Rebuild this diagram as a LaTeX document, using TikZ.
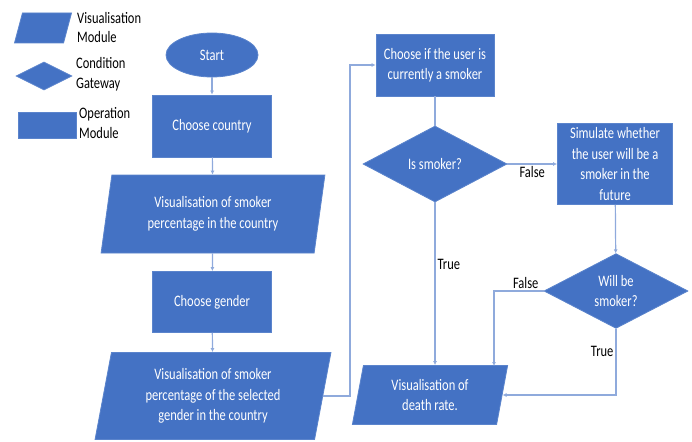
\documentclass[tikz,border=0pt]{standalone}
\usepackage{fontspec}
\setmainfont{Carlito}[FakeStretch=0.78]
\usetikzlibrary{arrows.meta,calc,positioning,shapes.geometric}
\definecolor{fcBlue}{HTML}{4472C4}
\definecolor{fcEdge}{HTML}{5B84CC}
\definecolor{fcLine}{HTML}{8FAADC}

\begin{document}
\begin{tikzpicture}[x=1pt,y=-1pt,>={Latex[length=4pt,width=4pt]},
  every node/.style={font=\fontsize{16}{20.5}\selectfont},
  opbox/.style={rectangle,fill=fcBlue,draw=fcEdge,line width=.8pt,text=white,align=center,inner sep=1pt},
  visbox/.style={trapezium,trapezium left angle=79,trapezium right angle=101,trapezium stretches=true,fill=fcBlue,draw=fcEdge,line width=.8pt,text=white,align=center,inner sep=1pt},
  gate/.style={diamond,fill=fcBlue,draw=fcEdge,line width=.8pt,text=white,align=center,inner sep=0pt},
  flow/.style={fcLine,line width=1.2pt},
  lbl/.style={text=black,inner sep=2pt}]
\useasboundingbox (0,0) rectangle (692,441);
% legend
\node[visbox,minimum width=57pt,minimum height=30pt] (legvis) at (43,28) {};
\node[anchor=west,align=left,inner sep=0pt,font=\fontsize{16}{19}\selectfont] (legvistxt) at (77,28) {Visualisation\\Module};
\node[gate,minimum width=56pt,minimum height=28pt] (leggate) at (44,76) {};
\node[anchor=west,align=left,inner sep=0pt,font=\fontsize{16}{20}\selectfont] (leggatetxt) at (76,74) {Condition\\Gateway};
\node[opbox,minimum width=58pt,minimum height=26pt] (legop) at (47,125) {};
\node[anchor=west,align=left,inner sep=0pt,font=\fontsize{16}{20}\selectfont] (legoptxt) at (79,123) {Operation\\Module};
% left column
\node[ellipse,fill=fcBlue,draw=fcEdge,line width=.8pt,text=white,minimum width=92pt,minimum height=44pt] (start) at (212,55) {Start};
\node[opbox,minimum width=119pt,minimum height=62pt] (country) at (212,126) {Choose country};
\node[visbox,minimum width=224pt,minimum height=78pt] (vissmoker) at (213,214) {Visualisation of smoker\\percentage in the country};
\node[opbox,minimum width=119pt,minimum height=61pt] (gender) at (212,302) {Choose gender};
\node[visbox,minimum width=236pt,minimum height=87pt] (visgender) at (213,396) {Visualisation of smoker\\percentage of the selected\\gender in the country};
% right part
\node[opbox,minimum width=118pt,minimum height=62pt] (current) at (435,65) {Choose if the user is\\currently a smoker};
\node[gate,minimum width=144pt,minimum height=76pt] (issmoker) at (435,164) {Is smoker?};
\node[opbox,minimum width=115pt,minimum height=81pt] (simulate) at (615,164) {Simulate whether\\the user will be a\\smoker in the\\future};
\node[gate,minimum width=144pt,minimum height=61pt] (willbe) at (616,291) {Will be\\smoker?};
\node[visbox,minimum width=156pt,minimum height=59pt] (death) at (430,395) {Visualisation of\\death rate.};
\coordinate (loop) at (350,65);
\coordinate (falsein) at (494,366);
% connectors
\draw[flow,->] (start) -- (country);
\draw[flow,->] (country) -- (vissmoker);
\draw[flow,->] (vissmoker) -- (gender);
\draw[flow,->] (gender) -- (visgender);
\draw[flow,->] (visgender.east) -| (loop) -- (current.west);
\draw[flow] (current) -- (issmoker);
\draw[flow,->] (issmoker.east) -- node[lbl,below] {False} (simulate.west);
\draw[flow,->] (issmoker.south) -- node[lbl,right,pos=.38] {True} (issmoker.south |- death.north);
\draw[flow,->] (simulate) -- (willbe);
\draw[flow,->] (willbe.west) -| node[lbl,above,pos=.18] {False} (falsein);
\draw[flow,->] (willbe.south) |- node[lbl,left,pos=.17] {True} (death.east);
\end{tikzpicture}
\end{document}
